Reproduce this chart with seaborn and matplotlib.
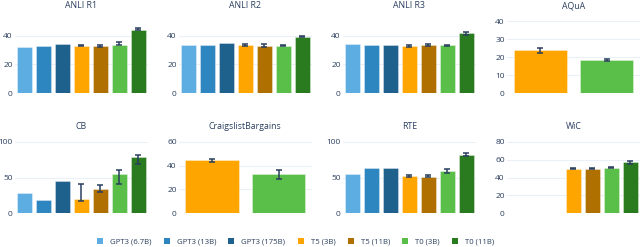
import numpy as np
import pandas as pd
import matplotlib
matplotlib.use("Agg")
import matplotlib.pyplot as plt
from matplotlib.patches import Patch
import seaborn as sns

nan = np.nan

# model names and colours
models = ["GPT3 (6.7B)", "GPT3 (13B)", "GPT3 (175B)", "T5 (3B)", "T5 (11B)", "T0 (3B)", "T0 (11B)"]
colors = ["#5DADE2", "#2E86C1", "#1F618D", "#FFA500", "#AF7000", "#5ABF48", "#2A7A20"]
small_models = ["T5 (3B)", "T0 (3B)"]

tasks = ["ANLI R1", "ANLI R2", "ANLI R3", "AQuA", "CB", "CraigslistBargains", "RTE", "WiC"]

# scores (bar = mean, whiskers = low/high)
anli_r1 = [31.9, 32.8, 34.0, 33.1, 32.6, 33.8, 44.2]
anli_r1_lo = [nan, nan, nan, 32.6, 32.1, 33.3, 43.7]
anli_r1_hi = [nan, nan, nan, 33.5, 33.3, 35.4, 45.3]

anli_r2 = [33.3, 33.3, 34.9, 33.3, 32.6, 33.1, 39.3]
anli_r2_lo = [nan, nan, nan, 33.0, 32.1, 32.8, 39.1]
anli_r2_hi = [nan, nan, nan, 34.0, 34.5, 33.5, 40.0]

anli_r3 = [34.2, 33.8, 33.8, 33.1, 33.3, 33.3, 41.8]
anli_r3_lo = [nan, nan, nan, 32.4, 33.1, 33.1, 40.7]
anli_r3_hi = [nan, nan, nan, 33.8, 34.2, 33.8, 42.8]

aqua = [24.3, 18.7]
aqua_lo = [22.6, 18.1]
aqua_hi = [25.4, 19.3]

cb = [28.0, 18.2, 45.8, 20.0, 33.7, 55.2, 78.5]
cb_lo = [nan, nan, nan, 16.8, 30.0, 41.1, 68.2]
cb_hi = [nan, nan, nan, 41.6, 39.7, 60.8, 80.9]

craigslist = [44.8, 33.3]
craigslist_lo = [43.4, 28.6]
craigslist_hi = [45.7, 35.9]

rte = [54.7, 62.6, 63.1, 51.9, 50.9, 58.9, 81.3]
rte_lo = [nan, nan, nan, 51.4, 50.9, 57.0, 79.4]
rte_hi = [nan, nan, nan, 53.3, 54.2, 61.7, 84.1]

wic = [0.8, 0.8, 0.8, 49.8, 49.8, 50.6, 56.9]
wic_lo = [nan, nan, nan, 49.4, 49.4, 50.2, 54.6]
wic_hi = [nan, nan, nan, 50.6, 50.6, 51.2, 58.4]

task_data = {
    "ANLI R1": (models, anli_r1, anli_r1_lo, anli_r1_hi),
    "ANLI R2": (models, anli_r2, anli_r2_lo, anli_r2_hi),
    "ANLI R3": (models, anli_r3, anli_r3_lo, anli_r3_hi),
    "AQuA": (small_models, aqua, aqua_lo, aqua_hi),
    "CB": (models, cb, cb_lo, cb_hi),
    "CraigslistBargains": (small_models, craigslist, craigslist_lo, craigslist_hi),
    "RTE": (models, rte, rte_lo, rte_hi),
    "WiC": (models, wic, wic_lo, wic_hi),
}

# y axis settings per panel
y_ticks = {
    "ANLI R1": [0, 20, 40], "ANLI R2": [0, 20, 40], "ANLI R3": [0, 20, 40],
    "AQuA": [0, 10, 20, 30, 40], "CB": [0, 50, 100], "CraigslistBargains": [0, 20, 40, 60],
    "RTE": [0, 50, 100], "WiC": [0, 20, 40, 60, 80],
}
y_top = {"ANLI R1": 50.2, "ANLI R2": 50.2, "ANLI R3": 50.2, "AQuA": 40.2,
         "CB": 101, "CraigslistBargains": 60.6, "RTE": 101, "WiC": 80.8}

rows = []
for t in tasks:
    names, vals, lo, hi = task_data[t]
    for m, v, l, h in zip(names, vals, lo, hi):
        rows.append({"task": t, "model": m, "score": v, "lo": l, "hi": h})
df = pd.DataFrame(rows)

palette = dict(zip(models, colors))
text_color = "#2a3f5f"
grid_color = "#EBF0F8"

sns.set_style("white")
plt.rcParams["font.family"] = ["Open Sans", "DejaVu Sans"]

fig, axes = plt.subplots(
    2, 4, figsize=(6.4, 2.47), dpi=100,
    gridspec_kw=dict(left=0.023, right=1.0, top=0.915, bottom=0.1364, wspace=0.233, hspace=0.66),
)

for ax, t in zip(axes.flat, tasks):
    sub = df[df["task"] == t]
    order = list(task_data[t][0])
    sns.barplot(data=sub, x="model", y="score", hue="model", order=order, hue_order=order,
                palette=palette, legend=False, width=0.8, saturation=1,
                edgecolor=(1, 1, 1, 0.4), linewidth=0.6, ax=ax, zorder=2)
    # error bars at the bar centres
    for patch, (_, r) in zip(ax.patches, sub.set_index("model").loc[order].iterrows()):
        if np.isnan(r["lo"]):
            continue
        xc = patch.get_x() + patch.get_width() / 2
        ax.errorbar(xc, r["score"], yerr=[[r["score"] - r["lo"]], [r["hi"] - r["score"]]],
                    fmt="none", ecolor=text_color, elinewidth=1.1, capsize=2.2,
                    capthick=1.1, zorder=3)
    ax.set_title(t, fontsize=6.3, color=text_color, pad=9)
    ax.set_xlabel("")
    ax.set_ylabel("")
    ax.set_xticks([])
    ax.set_yticks(y_ticks[t])
    ax.set_ylim(0, y_top[t])
    ax.set_xlim(-0.5, len(order) - 0.5)
    ax.tick_params(axis="y", length=0, pad=1.5, labelsize=6, labelcolor=text_color)
    ax.grid(axis="y", color=grid_color, linewidth=0.8)
    ax.set_axisbelow(True)
    sns.despine(ax=ax, left=True, bottom=True)

handles = [Patch(facecolor=c, edgecolor="none", label=m) for m, c in zip(models, colors)]
fig.legend(handles=handles, loc="center", bbox_to_anchor=(0.462, 0.02), ncol=7, frameon=False,
           fontsize=5.6, labelcolor=text_color, handlelength=0.75, handleheight=0.75,
           handletextpad=0.9, columnspacing=1.6)

fig.savefig("out.png", dpi=100, facecolor="white")
